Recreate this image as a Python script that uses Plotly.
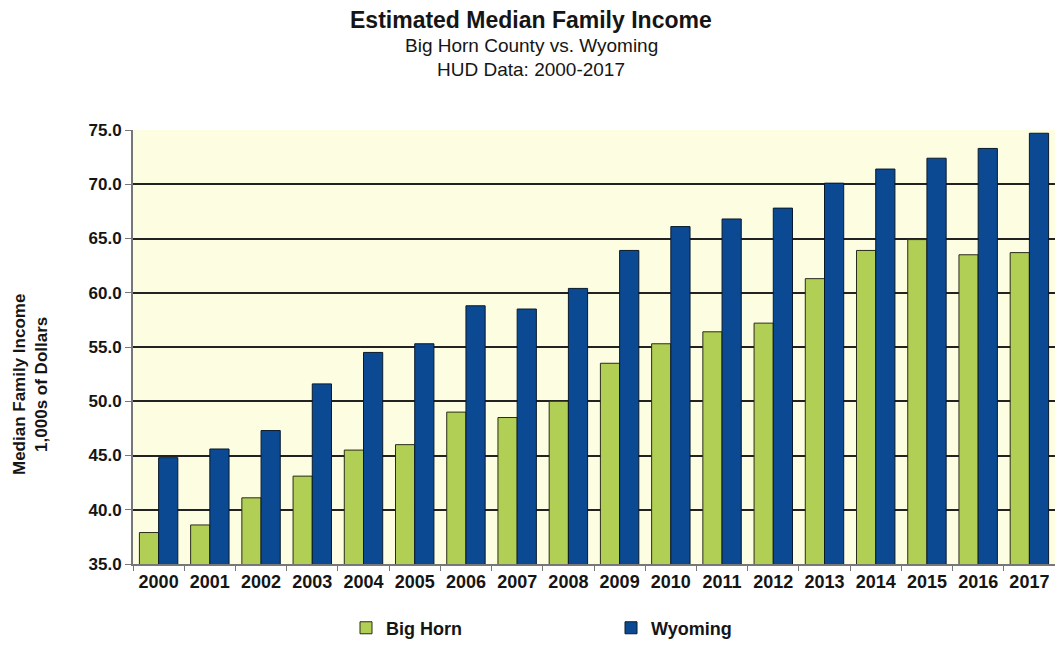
import plotly.graph_objects as go

years = [str(y) for y in range(2000, 2018)]
big_horn = [37.9, 38.6, 41.1, 43.1, 45.5, 46.0, 49.0, 48.5, 50.0, 53.5,
            55.3, 56.4, 57.2, 61.3, 63.9, 64.9, 63.5, 63.7]
wyoming = [44.8, 45.6, 47.3, 51.6, 54.5, 55.3, 58.8, 58.5, 60.4, 63.9,
           66.1, 66.8, 67.8, 70.1, 71.4, 72.4, 73.3, 74.7]
y_ticks = [35, 40, 45, 50, 55, 60, 65, 70, 75]

FONT = "Liberation Sans, Arial, sans-serif"
INK = "#151515"

fig = go.Figure()
fig.add_trace(go.Bar(name="Big Horn", x=years, y=big_horn,
                     marker=dict(color="#B2CF55", line=dict(color="#2a2a1a", width=1))))
fig.add_trace(go.Bar(name="Wyoming", x=years, y=wyoming,
                     marker=dict(color="#0B4A92", line=dict(color="#0a1a2a", width=1))))

fig.update_layout(
    width=1055, height=648,
    margin=dict(l=133, r=0, t=130, b=84),
    paper_bgcolor="white",
    plot_bgcolor="#FDFDE2",
    barmode="group",
    bargap=0.25, bargroupgap=0,
    font=dict(family=FONT, color=INK),
    showlegend=True,
    legend=dict(orientation="h", x=0.5 + 17 / 922, xanchor="center", y=-0.105, yanchor="top",
                font=dict(family=FONT, size=18, color=INK, weight="bold"),
                entrywidth=220, itemwidth=30, traceorder="normal"),
    xaxis=dict(type="category", tickson="boundaries", ticks="outside", ticklen=5,
               tickcolor="#777777", showline=True, linecolor="#777777", linewidth=2,
               tickfont=dict(family=FONT, size=18, color=INK, weight="bold"),
               showgrid=False),
    yaxis=dict(range=[35, 75], tickvals=y_ticks, tickformat=".1f", ticks="outside",
               ticklen=6, tickcolor="#777777", showline=True, linecolor="#777777",
               linewidth=2, showgrid=True, gridcolor="#222222", gridwidth=1.5,
               zeroline=False,
               tickfont=dict(family=FONT, size=17, color=INK, weight="bold")),
)

cx = (531 - 133) / 922
fig.add_annotation(text="<b>Estimated Median Family Income</b>", xref="paper", yref="paper",
                   x=cx, y=1 + (130 - 20) / 434, showarrow=False,
                   xanchor="center", yanchor="middle",
                   font=dict(family=FONT, size=23, color=INK))
fig.add_annotation(text="Big Horn County vs. Wyoming", xref="paper", yref="paper",
                   x=cx, y=1 + (130 - 46) / 434, showarrow=False,
                   xanchor="center", yanchor="middle",
                   font=dict(family=FONT, size=19, color=INK))
fig.add_annotation(text="HUD Data: 2000-2017", xref="paper", yref="paper",
                   x=cx, y=1 + (130 - 69) / 434, showarrow=False,
                   xanchor="center", yanchor="middle",
                   font=dict(family=FONT, size=19, color=INK))
fig.add_annotation(text="<b>Median Family Income<br>1,000s of Dollars</b>",
                   xref="paper", yref="paper",
                   x=(30 - 133) / 922, y=(564 - 385) / 434, showarrow=False,
                   xanchor="center", yanchor="middle", textangle=-90,
                   font=dict(family=FONT, size=17, color=INK))

fig.write_html("out.html")
